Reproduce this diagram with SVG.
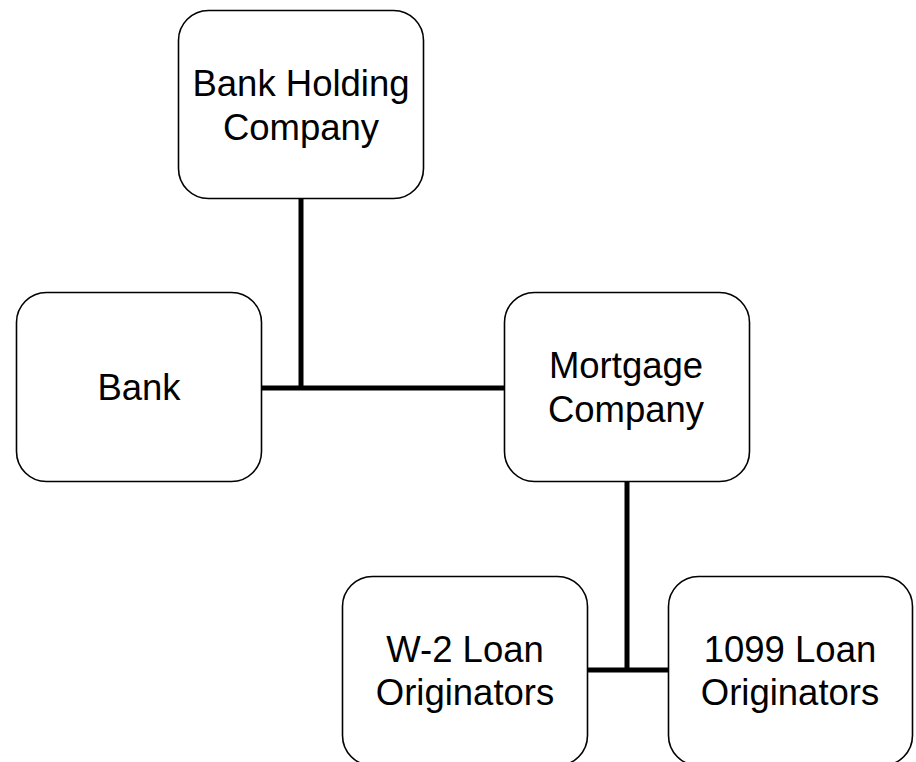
<svg xmlns="http://www.w3.org/2000/svg" width="916" height="762" viewBox="0 0 916 762">
<style>
.box{fill:#fff;stroke:#000;stroke-width:1.6}
.lbl{font-family:"Liberation Sans",Arial,sans-serif;font-size:36.5px;fill:#000;text-anchor:middle}
.conn{stroke:#000;stroke-width:5;fill:none}
</style>
<rect width="916" height="762" fill="#fff"/>
<g id="connectors">
<line class="conn" x1="301" y1="198" x2="301" y2="388"/>
<line class="conn" x1="261" y1="388" x2="504" y2="388"/>
<line class="conn" x1="627" y1="481" x2="627" y2="670"/>
<line class="conn" x1="587" y1="670" x2="668" y2="670"/>
</g>
<g id="bhc">
<rect class="box" x="178.5" y="10.5" width="245" height="188" rx="30"/>
<text class="lbl" x="301" y="96">Bank Holding</text>
<text class="lbl" x="301" y="140">Company</text>
</g>
<g id="bank">
<rect class="box" x="16.5" y="292.5" width="245" height="189" rx="30"/>
<text class="lbl" x="139" y="400">Bank</text>
</g>
<g id="mortgage">
<rect class="box" x="504.5" y="292.5" width="245" height="189" rx="30"/>
<text class="lbl" x="626" y="378">Mortgage</text>
<text class="lbl" x="626" y="422">Company</text>
</g>
<g id="w2">
<rect class="box" x="342.5" y="576.5" width="245" height="189" rx="30"/>
<text class="lbl" x="465" y="662">W-2 Loan</text>
<text class="lbl" x="465" y="705">Originators</text>
</g>
<g id="lo1099">
<rect class="box" x="668.5" y="576.5" width="244" height="189" rx="30"/>
<text class="lbl" x="790" y="662">1099 Loan</text>
<text class="lbl" x="790" y="705">Originators</text>
</g>
</svg>
